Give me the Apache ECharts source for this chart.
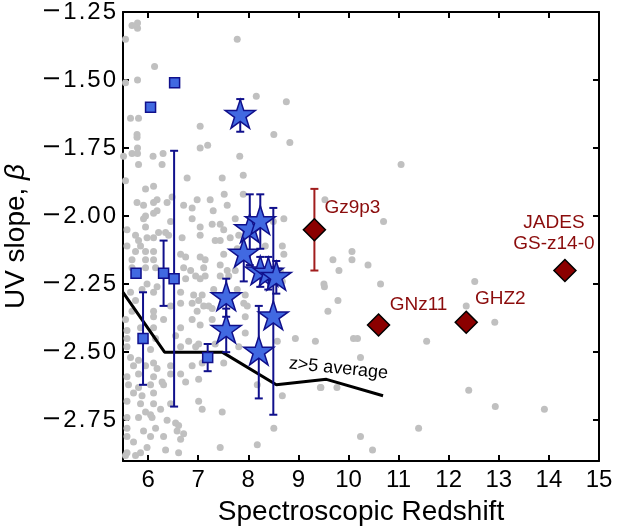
<!DOCTYPE html>
<html>
<head>
<meta charset="utf-8">
<script src="https://cdn.jsdelivr.net/npm/echarts@6/dist/echarts.min.js"></script>
<style>
  html, body { margin: 0; padding: 0; background: #fff; }
  #chart { width: 617px; height: 529px; }
</style>
</head>
<body>
<div id="chart"></div>
<script>
// Axis ticks
const xTicks = [6, 7, 8, 9, 10, 11, 12, 13, 14, 15];
const yTicks = [-2.75, -2.5, -2.25, -2.0, -1.75, -1.5, -1.25];

// Literature galaxies at z > 5: [redshift, beta]
const fieldGalaxies = [
  [5.68,-1.30],[5.79,-1.29],[5.79,-1.31],[5.55,-1.35],[7.78,-1.35],[6.13,-1.45],[5.79,-1.50],[5.55,-1.51],
  [8.16,-1.56],[8.76,-1.58],[5.65,-1.64],[5.81,-1.64],[7.04,-1.67],[5.78,-1.70],[5.78,-1.71],[8.51,-1.70],
  [8.83,-1.73],[7.04,-1.75],[7.19,-1.74],[5.68,-1.77],[5.79,-1.75],[5.79,-1.77],[6.10,-1.78],[6.30,-1.77],
  [7.83,-1.78],[5.51,-1.78],
  [5.81,-1.81],[6.28,-1.81],[5.55,-1.87],[5.95,-1.90],[6.11,-1.89],[6.78,-1.86],[7.48,-1.86],[5.78,-1.95],
  [5.91,-1.96],[6.11,-1.95],[6.18,-1.94],[6.38,-1.95],[6.48,-1.93],[6.71,-1.96],[6.88,-1.97],[6.98,-1.94],
  [7.24,-1.94],[7.58,-1.96],[5.95,-2.00],[6.11,-1.99],[6.18,-1.98],[5.91,-2.01],[6.45,-2.02],[6.88,-2.01],
  [7.04,-2.04],[7.28,-2.03],[7.44,-2.03],[7.51,-2.05],[5.58,-2.05],[5.75,-2.07],[5.95,-2.04],[5.98,-2.08],
  [6.11,-2.08],[6.21,-2.06],[6.35,-2.06],[6.41,-2.07],[6.68,-2.08],[7.04,-2.07],[7.34,-2.09],[5.81,-2.09],
  [5.85,-2.11],[5.58,-2.11],[5.75,-2.13],[5.95,-2.13],[6.11,-2.13],[6.65,-2.14],[6.75,-2.15],[7.04,-2.15],
  [7.14,-2.16],[7.51,-2.14],[5.68,-2.16],[5.95,-2.16],[6.11,-2.16],[6.71,-2.19],[6.85,-2.20],[7.11,-2.19],
  [5.68,-2.19],[5.95,-2.19],[6.15,-2.19],[5.98,-2.25],[5.88,-2.27],[6.18,-2.26],[6.95,-2.22],[6.75,-2.23],
  [7.14,-2.22],[5.65,-2.28],[6.11,-2.28],[6.65,-2.28],[6.91,-2.29],[5.75,-2.31],[6.65,-2.32],[7.01,-2.31],
  [6.45,-2.33],
  [7.90,-1.85],[7.74,-2.01],[8.71,-2.01],[7.81,-2.07],[7.64,-2.08],[8.68,-2.11],[8.71,-2.14],[7.44,-2.09],
  [7.44,-2.18],[7.58,-2.20],[7.74,-2.20],[7.44,-2.22],[7.04,-2.23],[7.94,-2.29],[7.64,-2.30],[7.91,-2.32],
  [9.51,-2.25],[7.11,-2.33],[7.21,-2.33],[6.88,-2.32],[7.31,-2.27],[7.08,-2.29],[7.52,-1.92],[7.90,-1.92],
  [7.30,-1.98],[8.50,-2.02],[7.78,-2.12],[7.61,-2.22],[7.78,-2.27],[8.64,-2.20],[8.68,-2.24],[8.34,-2.11],
  [5.68,-2.35],[6.11,-2.35],[6.98,-2.35],[7.28,-2.34],[7.98,-2.33],[5.55,-2.38],[6.11,-2.37],[6.31,-2.38],
  [6.88,-2.38],[7.28,-2.38],[7.94,-2.37],[5.58,-2.42],[5.85,-2.41],[6.11,-2.41],[6.65,-2.41],[7.04,-2.40],
  [7.94,-2.43],[5.58,-2.45],[6.15,-2.45],[6.55,-2.44],[6.81,-2.46],[7.01,-2.47],[7.34,-2.47],[7.81,-2.48],
  [8.58,-2.46],[8.94,-2.45],[5.58,-2.48],[6.05,-2.49],[6.65,-2.48],[6.95,-2.48],[5.65,-2.52],[5.81,-2.53],
  [5.71,-2.55],[5.95,-2.55],[6.11,-2.54],[6.18,-2.56],[6.45,-2.55],[6.88,-2.55],[7.08,-2.54],[7.51,-2.54],
  [5.58,-2.59],[5.81,-2.58],[6.11,-2.59],[6.28,-2.61],[6.45,-2.58],[6.65,-2.58],[7.01,-2.60],[5.61,-2.62],
  [5.81,-2.63],[6.05,-2.62],[6.31,-2.62],[6.75,-2.61],[8.18,-2.62],[8.68,-2.66],[9.44,-2.63],[5.71,-2.65],
  [5.88,-2.66],[6.11,-2.65],[5.58,-2.68],[5.85,-2.69],[6.11,-2.69],[5.95,-2.72],[6.05,-2.73],[6.25,-2.71],
  [6.45,-2.69],[7.01,-2.68],[7.08,-2.71],[7.48,-2.72],[5.58,-2.74],[5.81,-2.74],[6.08,-2.74],[6.38,-2.75],
  [6.55,-2.76],[6.61,-2.77],[5.58,-2.78],[5.91,-2.79],[6.15,-2.78],[6.58,-2.79],[6.71,-2.80],[8.51,-2.78],
  [5.58,-2.81],[5.71,-2.83],[6.05,-2.81],[6.31,-2.81],[6.65,-2.82],[8.18,-2.84],[7.44,-2.85],[5.58,-2.87],
  [5.85,-2.87],[5.98,-2.85],[6.35,-2.86],[6.61,-2.87],[5.55,-2.88],[5.75,-2.88],
  [9.53,-1.94],[11.05,-1.81],[10.70,-2.02],[10.07,-2.13],[9.69,-2.16],[10.07,-2.16],[10.39,-2.18],[9.81,-2.20],
  [9.52,-2.26],[10.64,-2.25],[9.79,-2.31],[9.59,-2.35],[12.52,-2.24],[12.35,-2.33],[12.92,-2.39],[9.34,-2.46],
  [10.10,-2.45],[10.18,-2.45],[11.56,-2.46],[10.24,-2.52],[9.45,-2.63],[9.77,-2.63],[12.40,-2.64],[12.93,-2.70],
  [13.91,-2.71],[11.40,-2.78],[10.24,-2.81],[10.48,-2.86]
];

// Running average of beta for z > 5
const avgZ = [5.5, 6.33, 7.48, 8.56, 9.56, 10.69];
const avgBeta = [-2.28, -2.50, -2.50, -2.62, -2.60, -2.66];

// Square sample (error 0 means no bar)
const sqZ = [6.05, 6.53, 5.76, 5.90, 6.31, 6.52, 7.19];
const sqBeta = [-1.60, -1.51, -2.21, -2.45, -2.21, -2.23, -2.52];
const sqErr = [0, 0, 0, 0.17, 0.12, 0.47, 0.05];

// Star sample
const starZ = [7.84, 8.03, 8.24, 7.91, 8.24, 8.40, 8.56, 7.56, 7.56, 8.21, 8.50];
const starBeta = [-1.63, -2.05, -2.02, -2.14, -2.205, -2.21, -2.225, -2.30, -2.42, -2.50, -2.37];
const starErrLo = [0.06, 0.13, 0.10, 0.10, 0.055, 0.06, 0.06, 0.07, 0.08, 0.17, 0.36];
const starErrHi = [0.06, 0.13, 0.10, 0.10, 0.055, 0.06, 0.06, 0.07, 0.08, 0.17, 0.40];

// Named record-redshift galaxies
const redNames = ['Gz9p3', 'GNz11', 'GHZ2', 'JADES\nGS-z14-0'];
const redZ = [9.32, 10.60, 12.35, 14.32];
const redBeta = [-2.05, -2.40, -2.39, -2.20];
const redErr = [0.15, 0, 0, 0];

const FONT = '"Liberation Sans", Arial, Helvetica, sans-serif';
const BLUE = '#4169e1';
const NAVY = '#10108c';
const DARKRED = '#8b0000';
const REDTEXT = '#8b0c0c';

const STAR_PATH = 'path://M100,0 L122.45,69.1 L195.1,69.1 L136.3,111.8 L158.8,180.9 L100,138.2 L41.2,180.9 L63.7,111.8 L4.9,69.1 L77.55,69.1 Z';

function errorBars(rows, color, z) {
  return {
    type: 'custom',
    data: rows,
    encode: { x: 0, y: [1, 2] },
    silent: true,
    z: z,
    renderItem: function (params, api) {
      const x = api.value(0);
      const lo = api.coord([x, api.value(1)]);
      const hi = api.coord([x, api.value(2)]);
      const w = 4;
      const st = { stroke: color, lineWidth: 2 };
      return {
        type: 'group',
        children: [
          { type: 'line', shape: { x1: lo[0], y1: lo[1], x2: hi[0], y2: hi[1] }, style: st },
          { type: 'line', shape: { x1: lo[0] - w, y1: lo[1], x2: lo[0] + w, y2: lo[1] }, style: st },
          { type: 'line', shape: { x1: hi[0] - w, y1: hi[1], x2: hi[0] + w, y2: hi[1] }, style: st }
        ]
      };
    }
  };
}

const sqBars = [];
sqZ.forEach((z, i) => { if (sqErr[i] > 0) sqBars.push([z, sqBeta[i] - sqErr[i], sqBeta[i] + sqErr[i]]); });
const starBars = starZ.map((z, i) => [z, starBeta[i] - starErrLo[i], starBeta[i] + starErrHi[i]]);
const redBars = [];
redZ.forEach((z, i) => { if (redErr[i] > 0) redBars.push([z, redBeta[i] - redErr[i], redBeta[i] + redErr[i]]); });

// Label placement around each diamond (pixel offsets from the marker centre)
const redLabelOffsets = [[38, -22], [40, -20], [34, -23], [-11, -37]];

// Y tick labels: wide minus sign and slightly spaced digits
function yLabel(v) {
  const s = Math.abs(v).toFixed(2);
  let out = v < 0 ? '{m|\u2212}' : '';
  for (const c of s) out += c === '.' ? '{p|.}' : '{d|' + c + '}';
  return out;
}

const axisLineStyle = { show: true, onZero: false, lineStyle: { color: '#000', width: 2 } };
const tickStyle = (vals) => ({ show: true, inside: true, length: 6, lineStyle: { color: '#000', width: 2 }, customValues: vals });

const chart = echarts.init(document.getElementById('chart'), null, { renderer: 'canvas' });

const option = {
  animation: false,
  backgroundColor: '#fff',
  grid: { left: 123, right: 18, top: 12, bottom: 68, containLabel: false, outerBoundsMode: 'none' },
  xAxis: [
    {
      type: 'value', min: 5.5, max: 15, position: 'bottom',
      axisLine: axisLineStyle,
      axisTick: tickStyle(xTicks),
      axisLabel: { customValues: xTicks, fontSize: 24, color: '#000', fontFamily: FONT, margin: 7 },
      splitLine: { show: false },
      name: 'Spectroscopic Redshift', nameLocation: 'middle', nameGap: 37,
      nameTextStyle: { fontSize: 28, color: '#000', fontFamily: FONT }
    },
    {
      type: 'value', min: 5.5, max: 15, position: 'top',
      axisLine: axisLineStyle,
      axisTick: tickStyle(xTicks),
      axisLabel: { show: false },
      splitLine: { show: false }
    }
  ],
  yAxis: [
    {
      type: 'value', min: -2.9, max: -1.25, position: 'left',
      axisLine: axisLineStyle,
      axisTick: tickStyle(yTicks),
      axisLabel: {
        customValues: yTicks, color: '#000', margin: 6, formatter: yLabel,
        fontSize: 24, fontFamily: FONT,
        rich: {
          m: { fontSize: 24, fontFamily: '"DejaVu Sans", sans-serif', color: '#000', padding: [0, 1, 0, 0] },
          d: { fontSize: 24, fontFamily: FONT, color: '#000', padding: [0, 1, 0, 1] },
          p: { fontSize: 24, fontFamily: FONT, color: '#000', padding: [0, 1, 0, 1] }
        }
      },
      splitLine: { show: false },
      name: 'UV slope, {i|β}', nameLocation: 'middle', nameGap: 86,
      nameTextStyle: {
        fontSize: 28, color: '#000', fontFamily: FONT,
        rich: { i: { fontSize: 28, fontStyle: 'italic', color: '#000', fontFamily: FONT } }
      }
    },
    {
      type: 'value', min: -2.9, max: -1.25, position: 'right',
      axisLine: axisLineStyle,
      axisTick: tickStyle(yTicks),
      axisLabel: { show: false },
      splitLine: { show: false }
    }
  ],
  series: [
    {
      type: 'scatter', data: fieldGalaxies, symbol: 'circle', symbolSize: 7,
      itemStyle: { color: '#c0c0c0', opacity: 1 }, z: 1, silent: true
    },
    {
      type: 'line', data: avgZ.map((z, i) => [z, avgBeta[i]]), showSymbol: false,
      lineStyle: { color: '#000', width: 3 }, z: 2, silent: true
    },
    errorBars(sqBars, NAVY, 3),
    errorBars(starBars, NAVY, 3),
    errorBars(redBars, '#a11d1d', 3),
    {
      type: 'scatter', data: sqZ.map((z, i) => [z, sqBeta[i]]), symbol: 'rect', symbolSize: 10,
      itemStyle: { color: BLUE, borderColor: NAVY, borderWidth: 1.5, opacity: 1 }, z: 4, silent: true
    },
    {
      type: 'scatter', data: starZ.map((z, i) => [z, starBeta[i]]), symbol: STAR_PATH,
      symbolSize: 30, symbolKeepAspect: true, symbolOffset: [0, -1.5],
      itemStyle: { color: BLUE, borderColor: NAVY, borderWidth: 1.5, opacity: 1 }, z: 4, silent: true
    },
    {
      type: 'scatter', symbol: 'diamond', symbolSize: 22,
      itemStyle: { color: DARKRED, borderColor: '#000', borderWidth: 1.5, opacity: 1 }, z: 5, silent: true,
      data: redZ.map((z, i) => ({
        value: [z, redBeta[i]],
        label: {
          show: true, formatter: redNames[i], position: 'inside', offset: redLabelOffsets[i],
          color: REDTEXT, fontSize: 19, fontFamily: FONT, align: 'center', verticalAlign: 'middle', lineHeight: 21
        }
      }))
    }
  ]
};

chart.setOption(option);

// Caption for the running-average line, anchored in data space
const capPos = chart.convertToPixel({ gridIndex: 0 }, [9.80, -2.56]);
chart.setOption({
  graphic: [{
    type: 'text', x: capPos[0], y: capPos[1], rotation: -0.1, silent: true, z: 10,
    style: { text: 'z>5 average', fontSize: 18, fontFamily: FONT, fill: '#000', align: 'center', verticalAlign: 'middle' }
  }]
});
</script>
</body>
</html>
